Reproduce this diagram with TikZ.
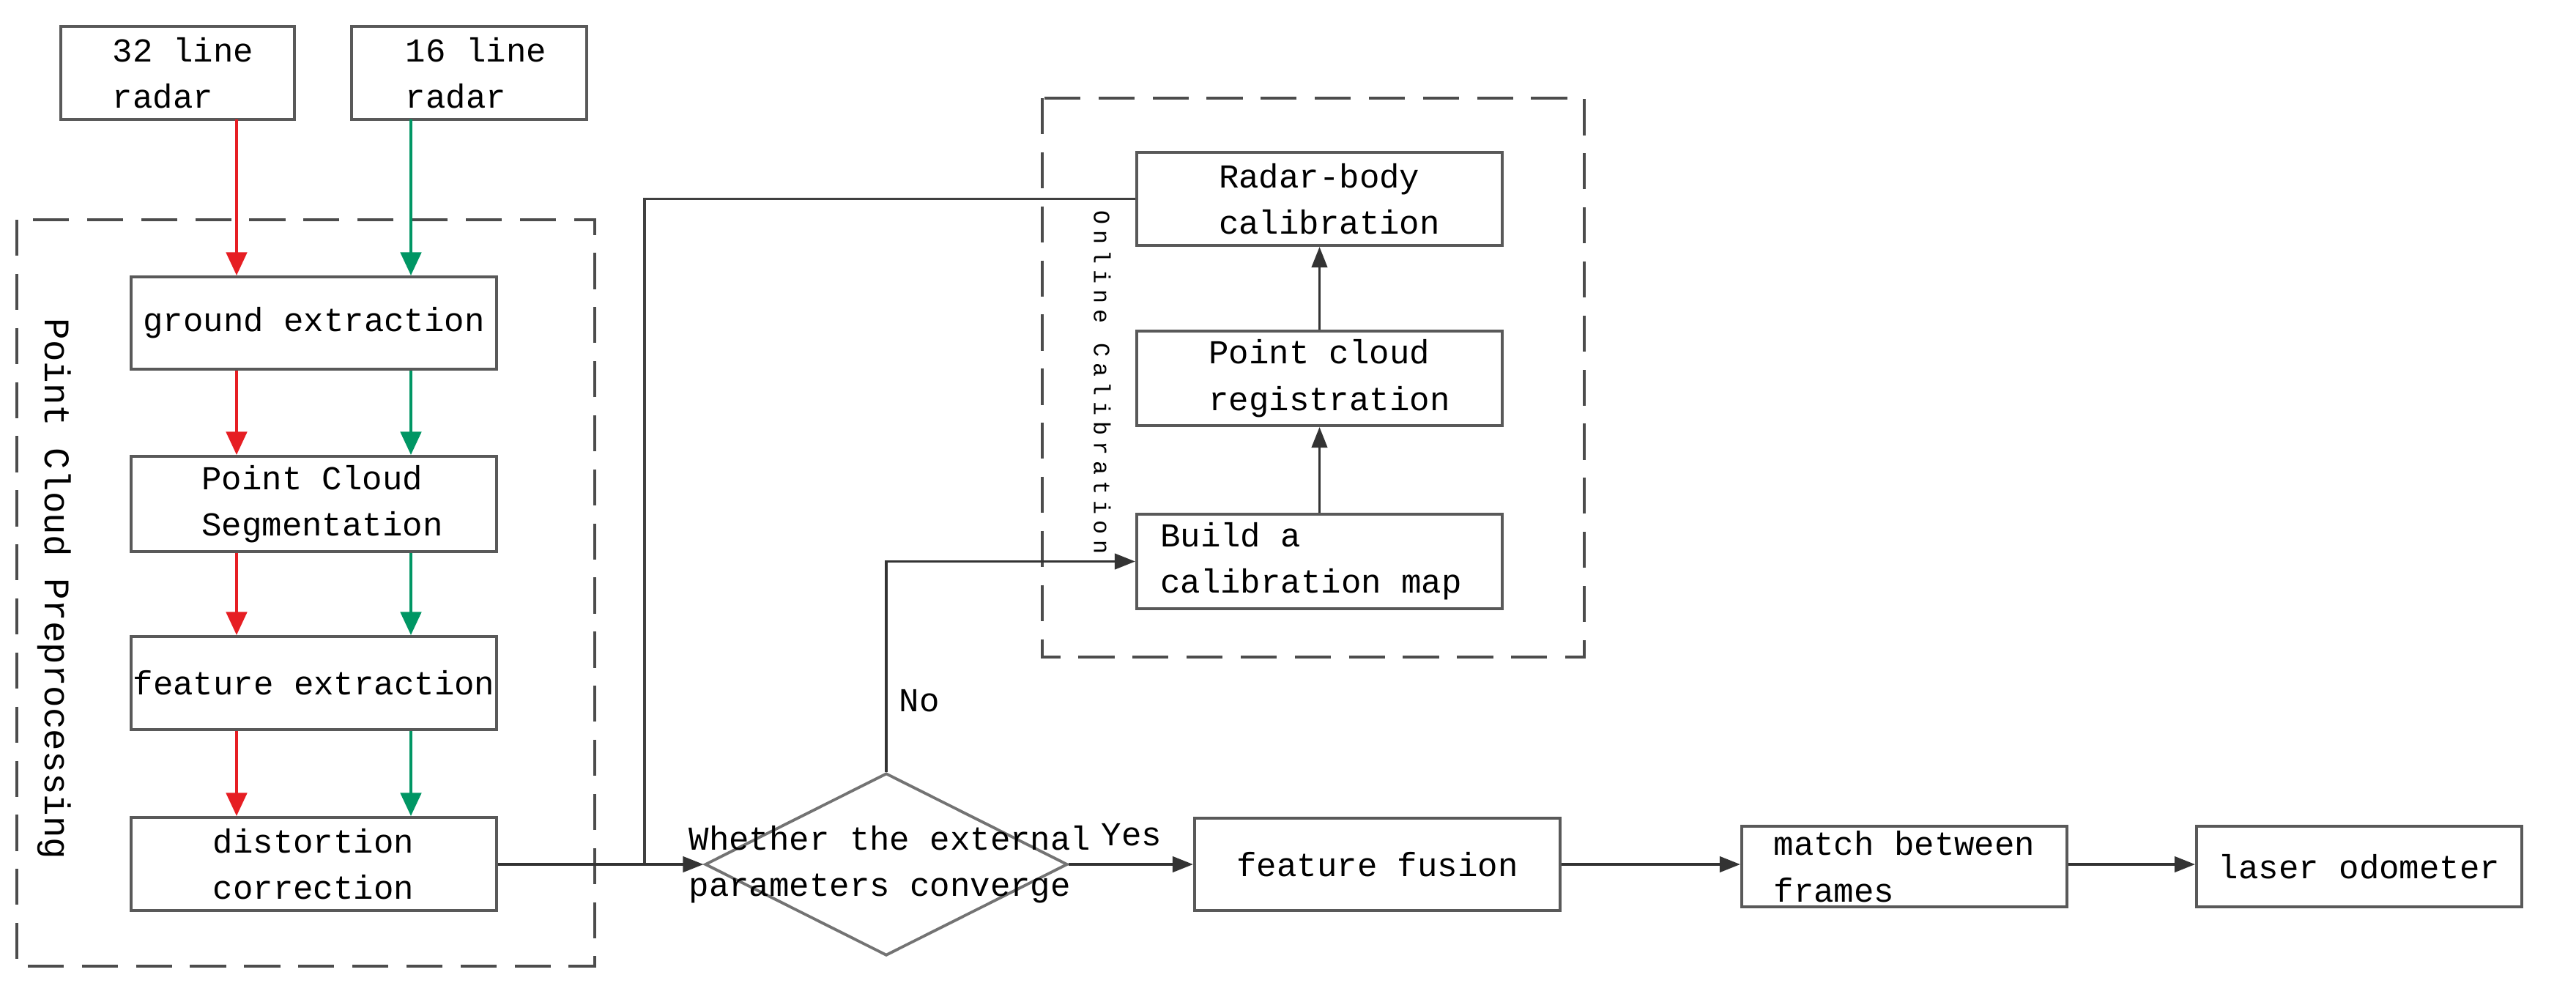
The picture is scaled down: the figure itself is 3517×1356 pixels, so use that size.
\documentclass[tikz,border=0pt]{standalone}
\usepackage{fontspec}
\setmainfont{Liberation Mono}
\newfontfamily\spacedmono{Liberation Mono}[LetterSpace=25]
\usetikzlibrary{arrows.meta,shapes.geometric}
\definecolor{rred}{RGB}{230,30,35}
\definecolor{ggreen}{RGB}{0,150,100}
\begin{document}
\begin{tikzpicture}[x=0.01cm,y=-0.01cm,
  box/.style={draw=black!65,line width=1.1pt,inner sep=0pt,font=\fontsize{13}{18}\selectfont,align=left},
  grp/.style={draw=black!70,line width=1.4pt,dash pattern=on 14pt off 7pt},
  ra/.style={rred,line width=1.3pt,-{Triangle[length=9pt,width=8pt]}},
  ga/.style={ggreen,line width=1.3pt,-{Triangle[length=9pt,width=8pt]}},
  ka/.style={black!80,line width=1.1pt,-{Triangle[length=8pt,width=6pt]}},
  lab/.style={font=\fontsize{13}{18}\selectfont}]
\useasboundingbox (0,0) rectangle (3517,1356);
% dashed groups
\draw[grp] (23,300) rectangle (812,1319);
\draw[grp] (1423,134) rectangle (2163,897);
% radar boxes
\node[box,minimum width=319*0.01cm,minimum height=127*0.01cm] (r32) at (242.5,99.5) {};
\node[lab,align=left] (t32) at (250,100) {32 line\\radar};
\node[box,minimum width=321*0.01cm,minimum height=127*0.01cm] (r16) at (640.5,99.5) {};
\node[lab,align=left] (t16) at (650,100) {16 line\\radar};
\coordinate (r32b) at (323,163); \coordinate (r16b) at (561,163);
% left column boxes
\node[box,minimum width=499*0.01cm,minimum height=126*0.01cm] (ge) at (428.5,441) {ground extraction};
\node[box,minimum width=499*0.01cm,minimum height=130*0.01cm] (pcs) at (428.5,688) {};
\node[lab,align=left] at (440,688) {Point Cloud\\Segmentation};
\node[box,minimum width=499*0.01cm,minimum height=127*0.01cm] (fe) at (428.5,932.5) {feature extraction};
\node[box,minimum width=499*0.01cm,minimum height=127*0.01cm] (dc) at (428.5,1179.5) {};
\node[lab,align=center] at (428,1179.5) {distortion\\correction};
% red/green arrows
\draw[ra] (r32b) -- (r32b|-ge.north);
\draw[ga] (r16b) -- (r16b|-ge.north);
\draw[ra] (r32b|-ge.south) -- (r32b|-pcs.north);
\draw[ga] (r16b|-ge.south) -- (r16b|-pcs.north);
\draw[ra] (r32b|-pcs.south) -- (r32b|-fe.north);
\draw[ga] (r16b|-pcs.south) -- (r16b|-fe.north);
\draw[ra] (r32b|-fe.south) -- (r32b|-dc.north);
\draw[ga] (r16b|-fe.south) -- (r16b|-dc.north);
\node[font=\fontsize{14}{15}\selectfont,rotate=-90] (pcp) at (74,804) {Point Cloud Preprocessing};
% online calibration boxes
\node[box,minimum width=499*0.01cm,minimum height=127*0.01cm] (rb) at (1801.5,271.5) {};
\node[lab,align=left] at (1815,271.5) {Radar-body\\calibration};
\node[box,minimum width=499*0.01cm,minimum height=129*0.01cm] (pcr) at (1801.5,516.5) {};
\node[lab,align=left] at (1815,516.5) {Point cloud\\registration};
\node[box,minimum width=499*0.01cm,minimum height=129*0.01cm] (bcm) at (1801.5,766.5) {};
\node[lab,align=left] at (1790,766.5) {Build a\\calibration map};
\node[font=\spacedmono\fontsize{9}{10}\selectfont,rotate=-90] (ocl) at (1505,522) {Online Calibration};
\draw[ka] (bcm) -- (pcr);
\draw[ka] (pcr) -- (rb);
% diamond
\node[draw=black!55,line width=1.1pt,diamond,aspect=1.98,minimum width=495*0.01cm,minimum height=249*0.01cm,inner sep=0pt] (dm) at (1210,1180) {};
\node[lab,align=left] at (1215,1180) {Whether the external\\parameters converge};
% bottom row
\node[box,minimum width=499*0.01cm,minimum height=126*0.01cm] (ff) at (1880.5,1180) {feature fusion};
\node[box,minimum width=444*0.01cm,minimum height=110*0.01cm] (mbf) at (2600,1183) {};
\node[lab,align=left] at (2600,1183) {match between\\frames};
\node[box,minimum width=444*0.01cm,minimum height=110*0.01cm] (lo) at (3221,1183) {laser odometer};
% connectors
\coordinate (jn) at (880,1180);
\draw[black!75,line width=1.1pt] (rb.west) -| (jn);
\draw[ka] (dc.east|-jn) -- (dm.west);
\draw[ka] (dm.north) |- (bcm.west);
\node[lab] (no) at (1255,957) {No};
\draw[ka] (dm.east) -- (ff.west);
\node[lab] (yes) at (1545,1140) {Yes};
\draw[ka] (ff.east) -- (mbf.west|-ff.east);
\draw[ka] (mbf.east|-ff.east) -- (lo.west|-ff.east);
\end{tikzpicture}
\end{document}
